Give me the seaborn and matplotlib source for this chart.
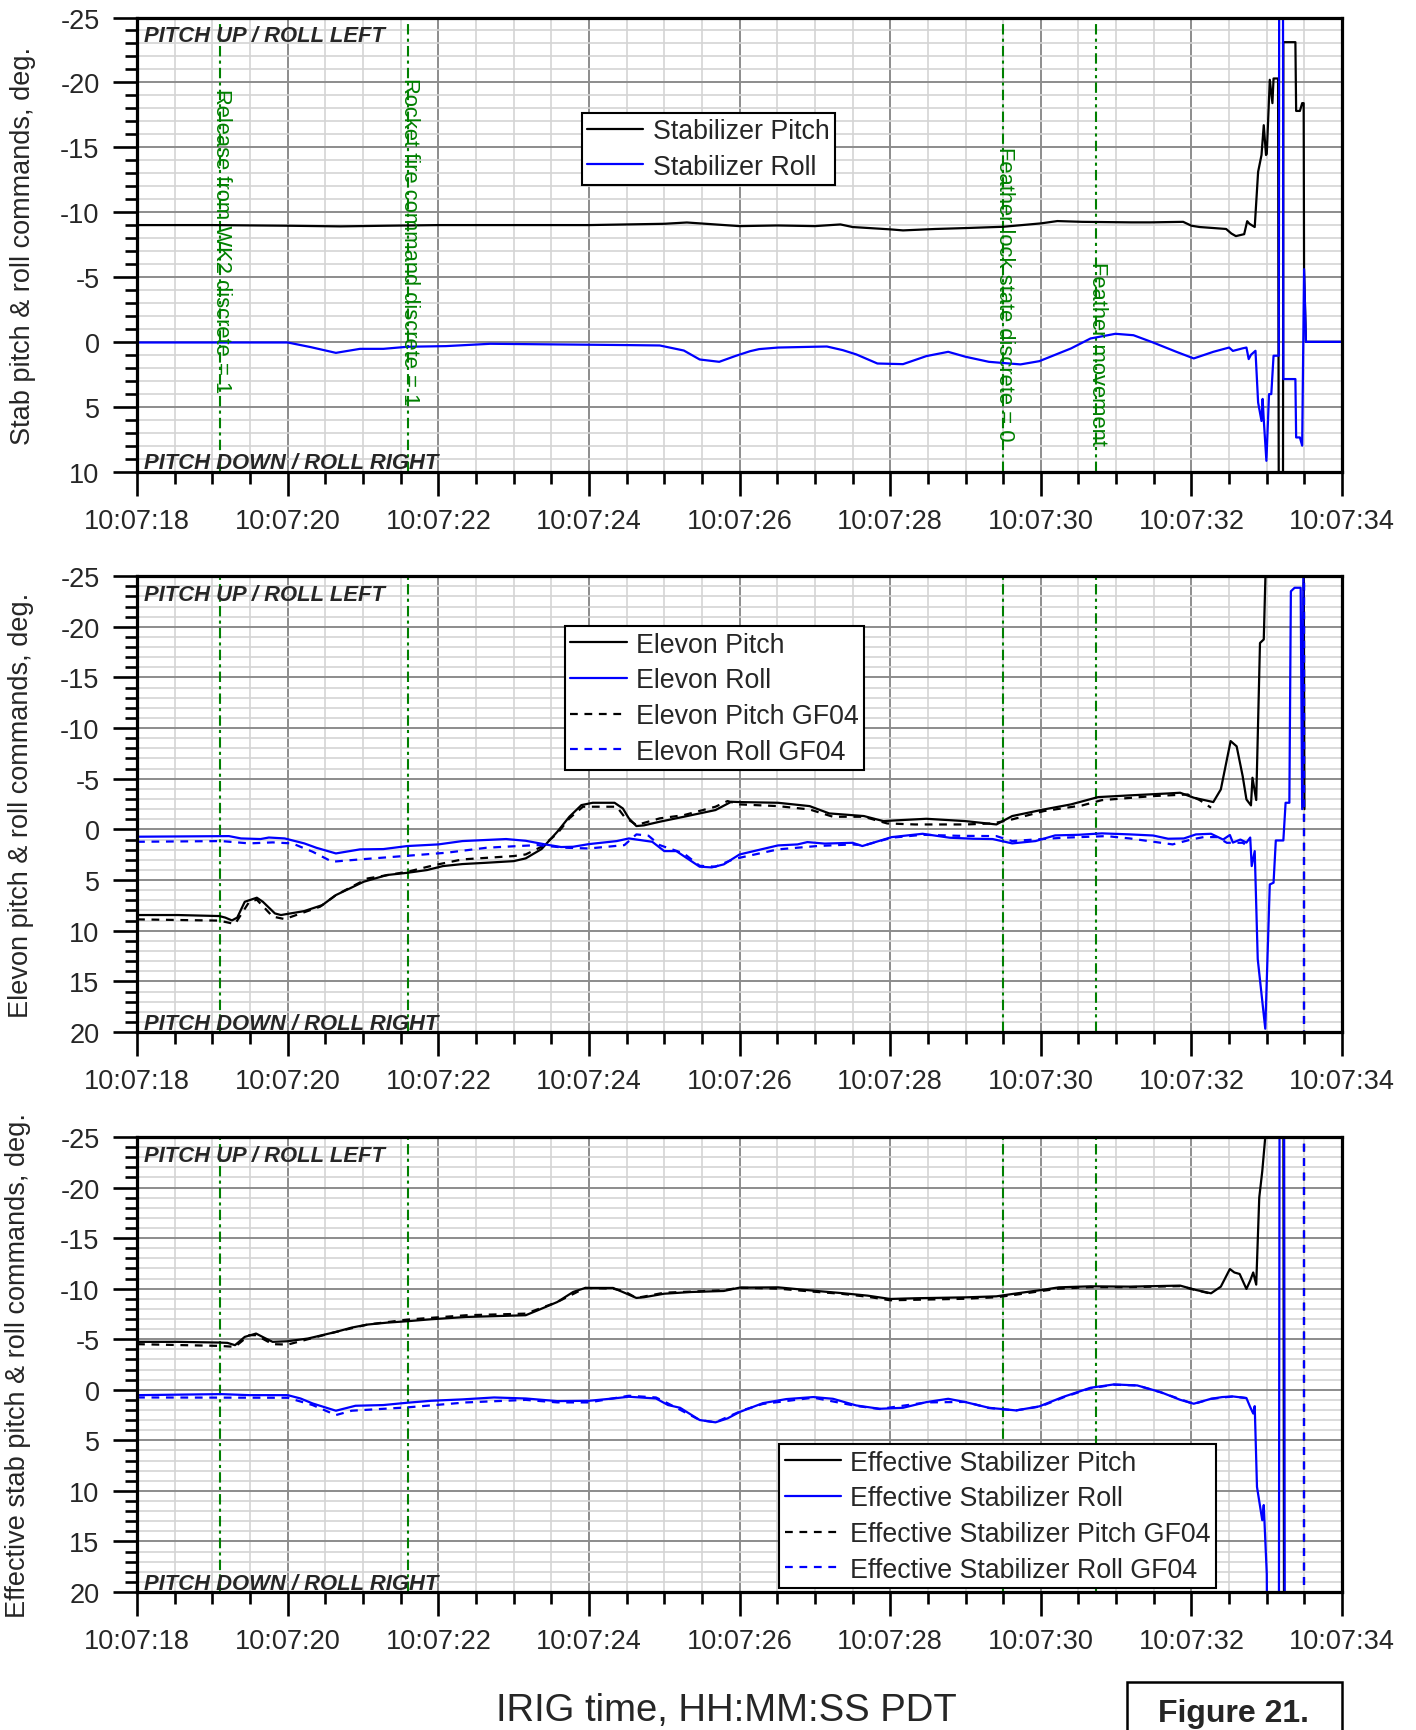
import seaborn as sns
import matplotlib.pyplot as plt
import matplotlib.patches as mpatches
from matplotlib.ticker import MultipleLocator

# time axis (seconds after 10:07:00)
time_ticks = [18, 20, 22, 24, 26, 28, 30, 32, 34]
time_tick_labels = ["10:07:18", "10:07:20", "10:07:22", "10:07:24", "10:07:26",
                    "10:07:28", "10:07:30", "10:07:32", "10:07:34"]

# event markers (green lines)
event_times = [19.1, 21.6, 29.5, 30.73]
event_labels = ["Release from WK2 discrete = 1", "Rocket fire command discrete = 1",
                "Feather lock state discrete = 0", "Feather movement"]
event_label_top = [-19.6, -20.4, -15.1, -6.2]

# ---- panel 1: stabilizer commands
stab_pitch_t = [18.0, 19.0, 20.0, 20.7, 21.3, 22.0, 23.0, 24.0, 25.0, 25.3, 26.0, 26.5, 27.0, 27.34,
                27.5, 28.0, 28.17, 28.6, 29.0, 29.5, 30.0, 30.22, 30.55, 31.2, 31.45, 31.89, 32.0,
                32.11, 32.46, 32.53, 32.59, 32.7, 32.74, 32.77, 32.84, 32.885, 32.93, 32.96, 32.99,
                33.0, 33.04, 33.075, 33.09, 33.15, 33.16, 33.215, 33.22, 33.38, 33.39, 33.44, 33.47,
                33.49, 33.495, 33.52, 34.0]
stab_pitch = [-9.0, -9.0, -8.95, -8.9, -8.95, -9.0, -9.0, -9.0, -9.1, -9.2, -8.92, -8.97, -8.92, -9.05,
              -8.85, -8.67, -8.59, -8.7, -8.77, -8.87, -9.13, -9.31, -9.25, -9.21, -9.21, -9.25, -8.95,
              -8.85, -8.7, -8.35, -8.15, -8.3, -9.3, -9.1, -8.85, -13.1, -14.4, -16.7, -14.4,
              -14.5, -20.2, -18.4, -20.3, -20.3, 15.0, 15.0, -23.1, -23.1, -17.8, -17.8, -18.4,
              -18.4, -5.6, 0.0, 0.0]
stab_roll_t = [18.0, 19.0, 20.0, 20.3, 20.64, 20.96, 21.27, 21.59, 22.1, 22.69, 23.58, 24.5, 24.94, 25.26,
               25.47, 25.73, 25.94, 26.14, 26.26, 26.51, 26.98, 27.16, 27.37, 27.55, 27.83, 28.17, 28.48,
               28.77, 29.0, 29.31, 29.73, 29.98, 30.4, 30.66, 30.99, 31.23, 31.49, 31.8, 32.03, 32.29,
               32.5, 32.55, 32.68, 32.73, 32.76, 32.79, 32.85, 32.885, 32.93, 32.945, 32.96, 32.995,
               33.03, 33.06, 33.09, 33.16, 33.165, 33.215, 33.22, 33.38, 33.39, 33.44, 33.47, 33.495,
               33.52, 34.0]
stab_roll = [0.05, 0.05, 0.05, 0.4, 0.85, 0.54, 0.54, 0.38, 0.33, 0.15, 0.2, 0.25, 0.28, 0.67,
             1.36, 1.54, 1.1, 0.72, 0.56, 0.44, 0.38, 0.36, 0.64, 0.97, 1.67, 1.72, 1.1,
             0.77, 1.15, 1.54, 1.74, 1.49, 0.51, -0.26, -0.62, -0.51, 0.05, 0.77, 1.28, 0.77,
             0.44, 0.7, 0.5, 0.44, 1.33, 1.0, 0.69, 4.67, 6.1, 4.4, 6.0, 9.17,
             4.03, 4.03, 1.07, 1.07, -30.0, -30.0, 2.87, 2.87, 7.37, 7.37, 8.0, -5.6,
             0.0, 0.0]

# ---- panel 2: elevon commands
elev_pitch_t = [18.0, 18.54, 19.09, 19.17, 19.26, 19.33, 19.43, 19.59, 19.67, 19.83, 19.91, 20.22, 20.46,
                20.64, 21.01, 21.32, 21.59, 21.85, 22.06, 22.32, 22.64, 23.0, 23.16, 23.37, 23.58, 23.74,
                23.9, 24.05, 24.34, 24.45, 24.53, 24.63, 24.73, 24.94, 25.26, 25.68, 25.89, 26.0, 26.51,
                26.93, 27.19, 27.65, 27.91, 28.07, 28.48, 29.0, 29.41, 29.62, 30.04, 30.4, 30.76, 31.18,
                31.69, 31.85, 32.03, 32.29, 32.39, 32.52, 32.6, 32.68, 32.73, 32.79, 32.81, 32.86, 32.91,
                32.96, 33.0, 33.49, 33.5]
elev_pitch = [8.45, 8.45, 8.55, 8.7, 8.98, 8.7, 7.14, 6.74, 7.14, 8.29, 8.45, 8.06, 7.47,
              6.48, 5.16, 4.5, 4.28, 4.01, 3.62, 3.42, 3.29, 3.13, 2.86, 1.94, 0.23, -1.25,
              -2.4, -2.63, -2.63, -2.07, -1.09, -0.33, -0.4, -0.76, -1.25, -1.91, -2.73, -2.7, -2.63,
              -2.3, -1.58, -1.32, -0.82, -0.89, -1.05, -0.82, -0.49, -1.32, -1.97, -2.47, -3.19, -3.36,
              -3.55, -3.62, -3.13, -2.7, -3.95, -8.72, -8.2, -5.26, -2.96, -2.37, -5.1, -2.9, -18.4,
              -18.75, -30.0, -30.0, -2.0]
elev_roll_t = [18.0, 19.22, 19.38, 19.64, 19.75, 19.96, 20.22, 20.38, 20.64, 20.96, 21.27, 21.59, 22.0,
               22.32, 22.9, 23.16, 23.42, 23.63, 23.79, 24.0, 24.37, 24.53, 24.84, 25.0, 25.16, 25.47,
               25.63, 25.79, 26.0, 26.51, 26.77, 26.9, 27.13, 27.5, 27.63, 28.02, 28.43, 28.79, 29.1,
               29.36, 29.62, 29.93, 30.19, 30.5, 30.81, 31.18, 31.49, 31.69, 31.9, 32.06, 32.26, 32.42,
               32.51, 32.55, 32.65, 32.73, 32.78, 32.8, 32.84, 32.88, 32.98, 33.04, 33.09, 33.12, 33.22,
               33.25, 33.3, 33.32, 33.37, 33.45, 33.47, 33.49]
elev_roll = [0.72, 0.66, 0.89, 0.95, 0.8, 0.89, 1.38, 1.81, 2.37, 1.97, 1.94, 1.64, 1.48,
             1.15, 0.95, 1.12, 1.48, 1.74, 1.71, 1.45, 1.15, 0.89, 1.22, 2.14, 2.14, 3.68,
             3.75, 3.45, 2.47, 1.58, 1.48, 1.25, 1.4, 1.32, 1.64, 0.76, 0.43, 0.82, 0.92,
             0.95, 1.38, 1.15, 0.59, 0.53, 0.39, 0.49, 0.6, 0.92, 0.89, 0.49, 0.43, 1.0,
             0.55, 1.3, 1.0, 1.3, 0.8, 3.62, 2.14, 12.8, 19.67, 5.43, 5.26, 1.09, 1.09,
             -2.63, -2.63, -23.5, -23.85, -23.85, -2.0, -30.0]
elev_pitch_gf_t = [18.0, 19.09, 19.3, 19.49, 19.59, 19.8, 19.96, 20.43, 20.64, 21.06, 21.59, 21.95, 22.32,
                   23.0, 23.16, 23.37, 23.58, 23.74, 23.92, 24.37, 24.47, 24.63, 24.94, 25.26, 25.68,
                   25.84, 26.0, 26.51, 26.93, 27.24, 27.65, 27.96, 28.33, 29.0, 29.36, 29.62, 30.04,
                   30.55, 30.81, 31.49, 31.95, 32.11, 32.26]
elev_pitch_gf = [8.88, 9.0, 9.34, 7.14, 6.94, 8.6, 8.85, 7.63, 6.48, 4.84, 4.18, 3.52, 2.96,
                 2.63, 2.47, 1.71, 0.4, -1.09, -2.24, -2.24, -1.25, -0.43, -1.09, -1.41, -2.24,
                 -2.8, -2.47, -2.3, -1.97, -1.25, -1.25, -0.59, -0.49, -0.49, -0.59, -0.99, -1.81,
                 -2.37, -2.89, -3.29, -3.45, -2.89, -2.14]
elev_roll_gf_t = [18.0, 19.12, 19.49, 19.8, 20.06, 20.33, 20.59, 20.96, 21.59, 22.11, 22.64, 23.06, 23.32,
                  23.69, 24.0, 24.47, 24.63, 24.79, 24.94, 25.26, 25.47, 25.68, 25.89, 26.0, 26.51, 27.03,
                  27.5, 27.65, 28.02, 28.43, 28.9, 29.41, 29.62, 29.93, 30.3, 30.87, 31.18, 31.75, 32.0,
                  32.16, 32.34, 32.47, 32.68, 32.78]
elev_roll_gf = [1.22, 1.15, 1.38, 1.28, 1.38, 2.2, 3.19, 2.96, 2.6, 2.3, 1.81, 1.64, 1.55,
                1.81, 1.88, 1.55, 0.49, 0.62, 1.55, 2.37, 3.59, 3.68, 3.03, 2.8, 1.97, 1.64,
                1.48, 1.58, 0.82, 0.53, 0.63, 0.66, 1.15, 0.99, 0.82, 0.66, 0.89, 1.48, 0.99,
                0.76, 0.76, 1.32, 1.32, 1.8]

# ---- panel 3: effective stabilizer commands
eff_pitch_t = [18.0, 18.54, 19.09, 19.2, 19.3, 19.43, 19.58, 19.7, 19.8, 20.0, 20.27, 20.64, 20.85, 21.06,
               21.32, 21.59, 21.9, 22.37, 23.16, 23.32, 23.58, 23.79, 23.95, 24.32, 24.47, 24.63, 24.73,
               25.0, 25.36, 25.79, 26.0, 26.51, 26.98, 27.34, 27.7, 28.0, 28.33, 29.0, 29.41, 29.62,
               30.04, 30.24, 30.66, 31.18, 31.85, 32.06, 32.26, 32.39, 32.51, 32.57, 32.64, 32.73, 32.78,
               32.82, 32.86, 32.9, 32.94, 32.98, 33.0, 33.22, 33.23, 33.5]
eff_pitch = [-4.74, -4.74, -4.67, -4.64, -4.41, -5.23, -5.56, -5.1, -4.74, -4.8, -5.07, -5.72, -6.15, -6.45,
             -6.64, -6.78, -6.97, -7.2, -7.37, -7.86, -8.68, -9.67, -10.07, -10.07, -9.6, -9.08, -9.15,
             -9.5, -9.67, -9.77, -10.1, -10.13, -9.8, -9.57, -9.31, -8.98, -9.05, -9.14, -9.24, -9.47,
             -9.9, -10.13, -10.23, -10.2, -10.3, -9.87, -9.54, -10.2, -11.94, -11.6, -11.45, -9.97, -10.8,
             -11.6, -10.4, -19.0, -21.6, -25.0, -30.0, -30.0, 30.0, 30.0]
eff_roll_t = [18.0, 19.12, 19.49, 20.0, 20.17, 20.33, 20.64, 20.9, 21.27, 21.59, 21.9, 22.32, 22.74, 23.16,
              23.58, 24.0, 24.32, 24.53, 24.89, 25.05, 25.21, 25.47, 25.68, 25.84, 26.0, 26.31, 26.62,
              26.98, 27.24, 27.55, 27.86, 28.17, 28.48, 28.77, 29.0, 29.31, 29.67, 29.98, 30.29, 30.66,
              30.97, 31.28, 31.59, 31.85, 32.03, 32.26, 32.41, 32.55, 32.73, 32.78, 32.82, 32.84, 32.87,
              32.94, 32.96, 33.0, 33.01, 33.16, 33.17, 33.23, 33.24]
eff_roll = [0.53, 0.43, 0.53, 0.53, 0.86, 1.35, 2.07, 1.58, 1.51, 1.28, 1.09, 0.95, 0.76, 0.86,
            1.12, 1.09, 0.86, 0.69, 0.86, 1.51, 1.78, 2.99, 3.22, 2.83, 2.2, 1.32, 0.92,
            0.72, 0.89, 1.55, 1.88, 1.78, 1.22, 0.89, 1.22, 1.78, 2.04, 1.64, 0.72, -0.2,
            -0.53, -0.43, 0.23, 0.99, 1.38, 0.89, 0.72, 0.66, 0.82, 1.71, 2.35, 1.62, 9.6,
            12.9, 11.4, 18.2, 30.0, 30.0, -30.0, -30.0, 30.0]
eff_pitch_gf_t = [18.0, 19.09, 19.3, 19.49, 19.58, 19.8, 20.0, 20.27, 20.64, 21.06, 21.59, 22.37, 23.16,
                  23.32, 23.58, 23.95, 24.32, 24.47, 24.63, 25.0, 25.79, 26.0, 26.51, 26.98, 27.34,
                  27.7, 28.0, 28.33, 29.0, 29.41, 29.62, 30.04, 30.24, 30.66, 31.18, 31.85, 32.06, 32.26]
eff_pitch_gf = [-4.51, -4.34, -4.25, -5.4, -5.4, -4.51, -4.47, -5.0, -5.72, -6.45, -6.94, -7.37, -7.53,
                -7.96, -8.68, -10.07, -10.0, -9.74, -9.08, -9.6, -9.84, -10.1, -10.0, -9.7, -9.5,
                -9.2, -8.85, -8.9, -9.0, -9.15, -9.35, -9.8, -10.0, -10.15, -10.15, -10.25, -9.85, -9.5]
eff_roll_gf_t = [18.0, 20.0, 20.33, 20.64, 20.85, 21.59, 22.37, 23.16, 23.58, 24.0, 24.53, 24.89, 25.05,
                 25.47, 25.68, 26.05, 26.31, 26.98, 27.55, 27.86, 28.48, 29.0, 29.31, 29.67, 30.0, 30.3,
                 30.66, 30.97, 31.28, 31.59, 32.03, 32.26, 32.55, 32.73]
eff_roll_gf = [0.76, 0.79, 1.51, 2.5, 2.07, 1.74, 1.25, 1.0, 1.25, 1.25, 0.59, 0.76, 1.35,
               2.99, 3.22, 2.0, 1.4, 0.78, 1.6, 1.9, 1.25, 1.2, 1.8, 2.04, 1.64, 0.75,
               -0.15, -0.5, -0.43, 0.25, 1.4, 0.9, 0.66, 0.82]

# GF04 traces end with a vertical jump at 10:07:33.5
gf_end_t = [33.5, 33.5]
gf_end_v = [-30.0, 30.0]

sns.set_style("white")
plt.rcParams['font.family'] = ['Liberation Sans', 'DejaVu Sans']
plt.rcParams['axes.unicode_minus'] = False

fig = plt.figure(figsize=(14.16, 17.31), dpi=100)
L, W = 0.0968, 0.8510
ax1 = fig.add_axes([L, 0.7270, W, 0.2623])
ax2 = fig.add_axes([L, 0.4032, W, 0.2634])
ax3 = fig.add_axes([L, 0.0797, W, 0.2629])

GF_DASH = (0, (3.5, 3))
LW = 1.6


def style_panel(ax, ymax, ylabel, label_x):
    ax.set_xlim(18, 34)
    ax.set_ylim(ymax, -25)
    ax.set_xticks(time_ticks)
    ax.set_xticklabels(time_tick_labels)
    ax.set_yticks(list(range(-25, ymax + 1, 5)))
    ax.xaxis.set_minor_locator(MultipleLocator(0.5))
    ax.yaxis.set_minor_locator(MultipleLocator(1))
    ax.set_axisbelow(True)
    ax.grid(which='minor', color='#d4d4d4', lw=1.2)
    ax.grid(which='major', color='#8c8c8c', lw=1.4)
    for s in ax.spines.values():
        s.set_linewidth(2.3)
        s.set_color('black')
    ax.tick_params(which='major', direction='out', length=17, width=1.9, labelsize=19.5,
                   bottom=True, left=True, top=False, right=False, color='black')
    ax.tick_params(axis='y', which='major', pad=10)
    ax.tick_params(axis='x', which='major', pad=9)
    ax.tick_params(which='minor', direction='out', length=8.5, width=1.9,
                   bottom=True, left=True, top=False, right=False, color='black')
    ax.set_ylabel(ylabel, fontsize=19.5)
    ax.yaxis.set_label_coords(label_x, 0.5)
    ax.text(0.006, 0.948, "PITCH UP / ROLL LEFT", transform=ax.transAxes, fontsize=15.8,
            fontweight='bold', fontstyle='italic', va='baseline', ha='left')
    ax.text(0.006, 0.007, "PITCH DOWN / ROLL RIGHT", transform=ax.transAxes, fontsize=15.8,
            fontweight='bold', fontstyle='italic', va='baseline', ha='left')
    for i, et in enumerate(event_times):
        ls = (0, (5, 2, 1.5, 2)) if i < 3 else (0, (5, 2, 1.5, 2, 1.5, 2))
        ax.axvline(et, color='#008000', lw=1.5, ls=ls, zorder=1.5)


def line(ax, t, v, color, label=None, dashed=False):
    kw = dict(x=t, y=v, ax=ax, color=color, lw=LW, sort=False, estimator=None)
    if dashed:
        kw['linestyle'] = GF_DASH
    if label is not None:
        kw['label'] = label
    sns.lineplot(**kw)


def legend(ax, **kw):
    leg = ax.legend(fontsize=19.3, frameon=True, fancybox=False, framealpha=1, edgecolor='black',
                    borderpad=0.2, labelspacing=0.36, handlelength=2.1, handletextpad=0.35,
                    borderaxespad=0, **kw)
    leg.get_frame().set_linewidth(1.5)
    leg.set_zorder(5)


# panel 1
line(ax1, stab_pitch_t, stab_pitch, 'black', "Stabilizer Pitch")
line(ax1, stab_roll_t, stab_roll, '#0000ff', "Stabilizer Roll")
style_panel(ax1, 10, "Stab pitch & roll commands, deg.", -0.0838)
for et, lab, top in zip(event_times, event_labels, event_label_top):
    ax1.text(et + 0.02, top, lab, rotation=270, color='#008000', fontsize=15.8,
             ha='center', va='top', zorder=3)
legend(ax1, loc='upper left', bbox_to_anchor=(0.369, 0.79))

# panel 2
line(ax2, elev_pitch_t, elev_pitch, 'black', "Elevon Pitch")
line(ax2, elev_roll_t, elev_roll, '#0000ff', "Elevon Roll")
line(ax2, elev_pitch_gf_t, elev_pitch_gf, 'black', "Elevon Pitch GF04", dashed=True)
line(ax2, elev_roll_gf_t, elev_roll_gf, '#0000ff', "Elevon Roll GF04", dashed=True)
line(ax2, gf_end_t, gf_end_v, 'black', dashed=True)
line(ax2, gf_end_t, gf_end_v, '#0000ff', dashed=True)
style_panel(ax2, 20, "Elevon pitch & roll commands, deg.", -0.0855)
legend(ax2, loc='upper left', bbox_to_anchor=(0.355, 0.89))

# panel 3
line(ax3, eff_pitch_t, eff_pitch, 'black', "Effective Stabilizer Pitch")
line(ax3, eff_roll_t, eff_roll, '#0000ff', "Effective Stabilizer Roll")
line(ax3, eff_pitch_gf_t, eff_pitch_gf, 'black', "Effective Stabilizer Pitch GF04", dashed=True)
line(ax3, eff_roll_gf_t, eff_roll_gf, '#0000ff', "Effective Stabilizer Roll GF04", dashed=True)
line(ax3, gf_end_t, gf_end_v, 'black', dashed=True)
line(ax3, gf_end_t, gf_end_v, '#0000ff', dashed=True)
style_panel(ax3, 20, "Effective stab pitch & roll commands, deg.", -0.088)
legend(ax3, loc='lower left', bbox_to_anchor=(0.533, 0.009))

fig.text(0.5127, 0.0116, "IRIG time, HH:MM:SS PDT", fontsize=27.5, ha='center', va='center')
fig.patches.append(mpatches.Rectangle((1127 / 1416, -0.01), 215 / 1416, (1731 - 1683) / 1731 + 0.01,
                                      transform=fig.transFigure, fill=False, lw=1.8, ec='black'))
fig.text(1234 / 1416, 0.0098, "Figure 21.", fontsize=23, fontweight='bold', ha='center', va='center')

fig.savefig("out.png", dpi=100)
